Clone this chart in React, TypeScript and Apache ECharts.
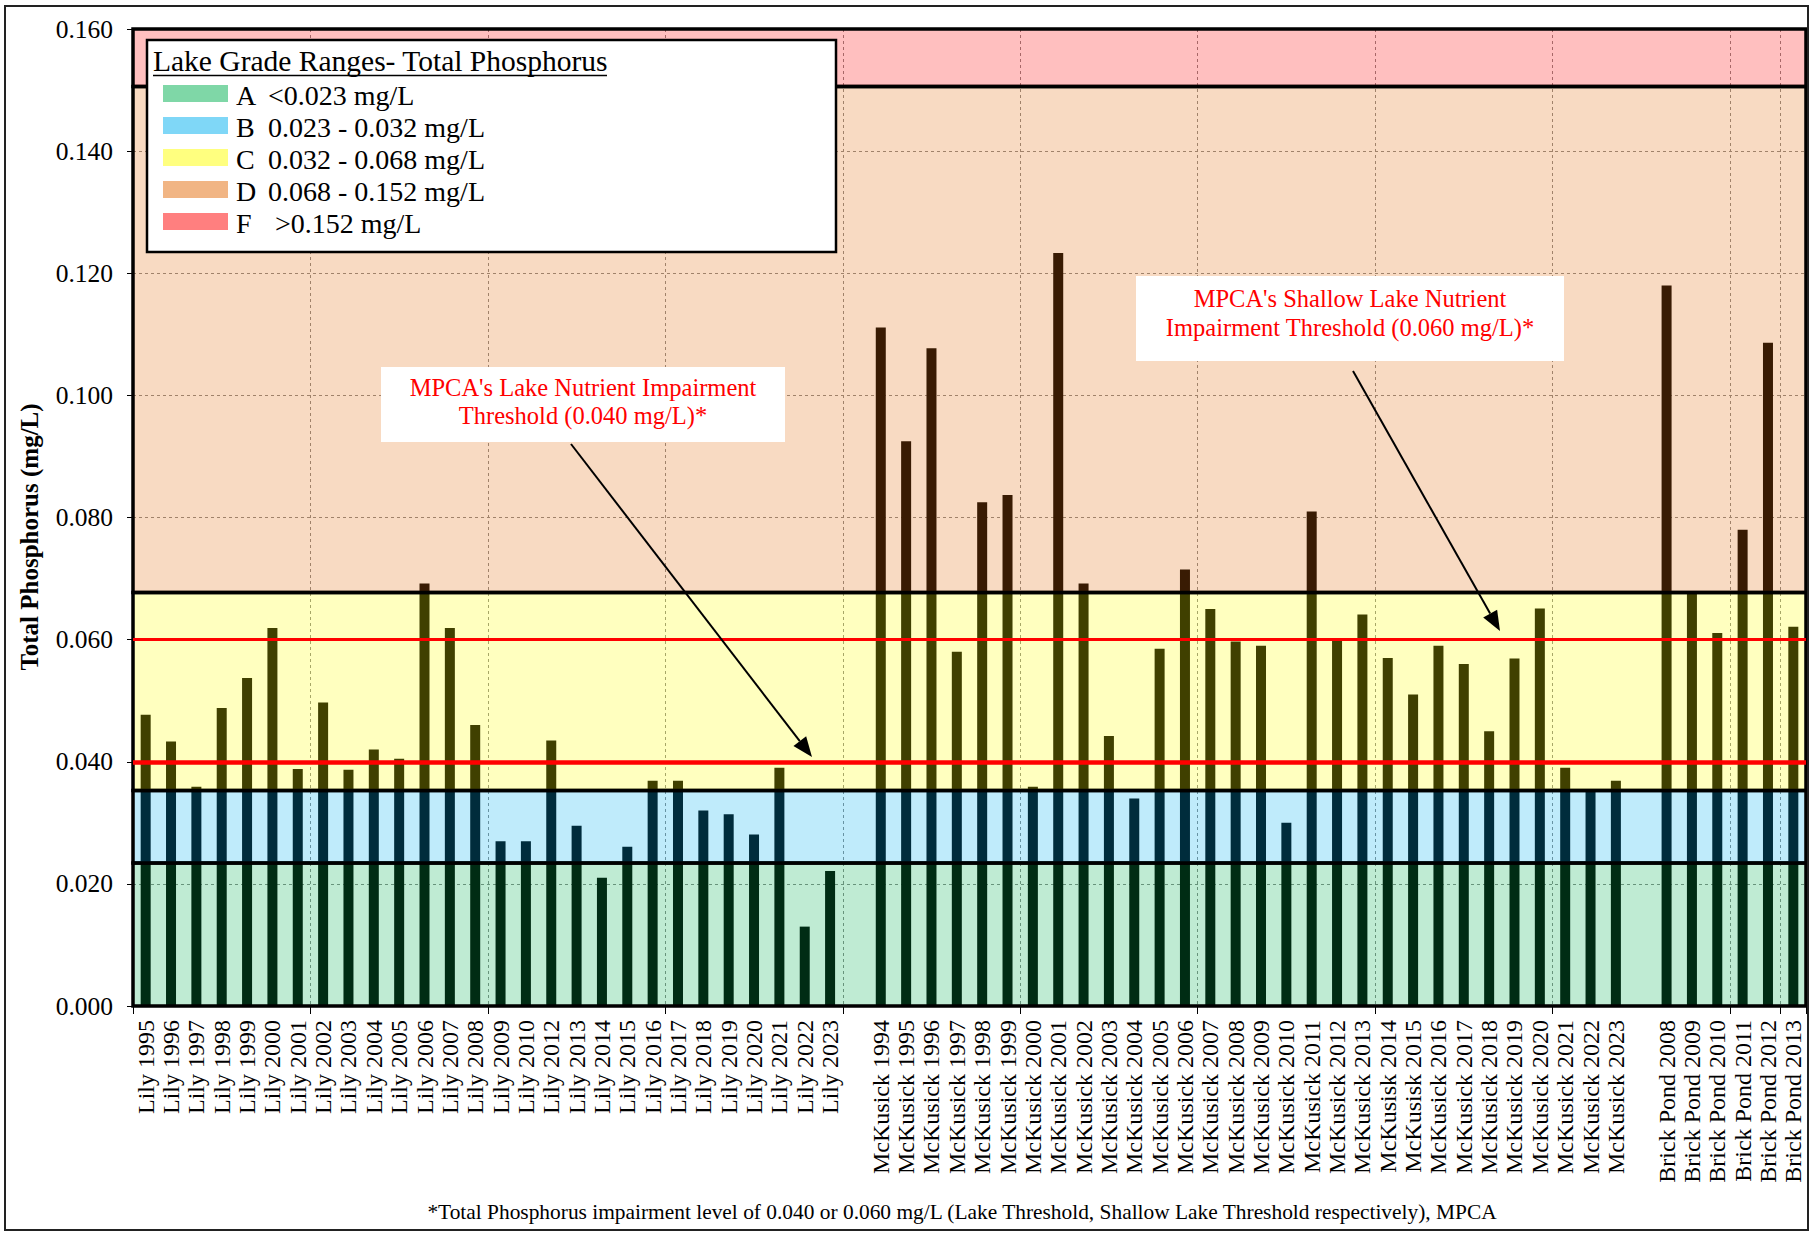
import React, { useEffect, useRef } from "react";
import * as echarts from "echarts";

// ---------- DATA ----------
const lilyLabels = [
  "Lily 1995", "Lily 1996", "Lily 1997", "Lily 1998", "Lily 1999", "Lily 2000", "Lily 2001",
  "Lily 2002", "Lily 2003", "Lily 2004", "Lily 2005", "Lily 2006", "Lily 2007", "Lily 2008",
  "Lily 2009", "Lily 2010", "Lily 2012", "Lily 2013", "Lily 2014", "Lily 2015", "Lily 2016",
  "Lily 2017", "Lily 2018", "Lily 2019", "Lily 2020", "Lily 2021", "Lily 2022", "Lily 2023",
];
const lilyTP = [
  0.0477, 0.0433, 0.0359, 0.0488, 0.0537, 0.0619, 0.0388,
  0.0497, 0.0387, 0.0420, 0.0405, 0.0692, 0.0619, 0.0460,
  0.0270, 0.0270, 0.0435, 0.0295, 0.0210, 0.0261, 0.0369,
  0.0369, 0.0320, 0.0314, 0.0281, 0.0390, 0.0130, 0.0221,
];
const mckLabels = [
  "McKusick 1994", "McKusick 1995", "McKusick 1996", "McKusick 1997", "McKusick 1998",
  "McKusick 1999", "McKusick 2000", "McKusick 2001", "McKusick 2002", "McKusick 2003",
  "McKusick 2004", "McKusick 2005", "McKusick 2006", "McKusick 2007", "McKusick 2008",
  "McKusick 2009", "McKusick 2010", "McKusick 2011", "McKusick 2012", "McKusick 2013",
  "McKusisk 2014", "McKusisk 2015", "McKusick 2016", "McKusick 2017", "McKusick 2018",
  "McKusick 2019", "McKusick 2020", "McKusick 2021", "McKusick 2022", "McKusick 2023",
];
const mckTP = [
  0.1111, 0.0925, 0.1077, 0.0580, 0.0825,
  0.0837, 0.0359, 0.1233, 0.0692, 0.0442,
  0.0340, 0.0585, 0.0715, 0.0650, 0.0597,
  0.0590, 0.0300, 0.0810, 0.0598, 0.0641,
  0.0570, 0.0510, 0.0590, 0.0560, 0.0450,
  0.0569, 0.0651, 0.0390, 0.0351, 0.0369,
];
const brickLabels = [
  "Brick Pond 2008", "Brick Pond 2009", "Brick Pond 2010",
  "Brick Pond 2011", "Brick Pond 2012", "Brick Pond 2013",
];
const brickTP = [0.1180, 0.0676, 0.0611, 0.0780, 0.1086, 0.0621];

const yTicks = [0, 0.02, 0.04, 0.06, 0.08, 0.1, 0.12, 0.14, 0.16];

// grade bands
const bandEdges = [0, 0.0234, 0.0353, 0.0677, 0.1506, 0.16];
const bandColors = ["#00B050", "#00B0F0", "#FFFF00", "#E46C0A", "#FF0000"];
const legendLetters = ["A", "B", "C", "D", "F"];
const legendRanges = ["<0.023 mg/L", "0.023 - 0.032 mg/L", "0.032 - 0.068 mg/L", "0.068 - 0.152 mg/L", " >0.152 mg/L"];
const legendTitle = "Lake Grade Ranges- Total Phosphorus";

const thresholds = [0.04, 0.06];
const thresholdWidths = [4.5, 3];

const note1 = ["MPCA's Lake Nutrient Impairment", "Threshold (0.040 mg/L)*"];
const note2 = ["MPCA's Shallow Lake Nutrient", "Impairment Threshold (0.060 mg/L)*"];
const footnote =
  "*Total Phosphorus impairment level of 0.040 or 0.060 mg/L (Lake Threshold, Shallow Lake Threshold respectively), MPCA";
const yTitle = "Total Phosphorus (mg/L)";

// ---------- helpers ----------
const FONT = "Liberation Serif";

function rgba(hex: string, a: number) {
  const r = parseInt(hex.slice(1, 3), 16);
  const g = parseInt(hex.slice(3, 5), 16);
  const b = parseInt(hex.slice(5, 7), 16);
  return `rgba(${r},${g},${b},${a})`;
}

function text(
  x: number,
  y: number,
  t: string,
  size: number,
  fill: string,
  align = "left",
  weight = "normal",
  rotation = 0
) {
  return {
    type: "text",
    x,
    y,
    rotation,
    z: 100,
    silent: true,
    style: {
      text: t,
      fill,
      font: `${weight} ${size}px ${FONT}`,
      textAlign: align,
      align,
      textVerticalAlign: "middle",
      verticalAlign: "middle",
    },
  };
}

function arrow(x1: number, y1: number, x2: number, y2: number) {
  const ang = Math.atan2(y2 - y1, x2 - x1);
  const L = 20;
  const W = 8;
  const c = Math.cos(ang);
  const s = Math.sin(ang);
  const bx = x2 - L * c;
  const by = y2 - L * s;
  return [
    { type: "line", z: 100, silent: true, shape: { x1, y1, x2: bx, y2: by }, style: { stroke: "#000", lineWidth: 2 } },
    {
      type: "polygon",
      z: 100,
      silent: true,
      shape: { points: [[x2, y2], [bx + W * s, by - W * c], [bx - W * s, by + W * c]] },
      style: { fill: "#000" },
    },
  ];
}

function noteBox(x: number, y: number, w: number, h: number, lines: string[], cx: number, ys: number[]) {
  const els: any[] = [
    { type: "rect", z: 99, silent: true, shape: { x, y, width: w, height: h }, style: { fill: "#fff" } },
  ];
  lines.forEach((l, i) => els.push(text(cx, ys[i], l, 24.5, "#FF0000", "center")));
  return els;
}

export default function App() {
  const ref = useRef<HTMLDivElement>(null);

  useEffect(() => {
    if (!ref.current) return;
    const chart = echarts.init(ref.current, null, { renderer: "svg" });

    const categories = [...lilyLabels, " ", ...mckLabels, "  ", ...brickLabels];
    const values = [...lilyTP, null, ...mckTP, null, ...brickTP];

    const bandAreas = bandColors.map((c, i) => [
      { yAxis: bandEdges[i], itemStyle: { color: rgba(c, 0.25), borderColor: "#000", borderWidth: 3.5 } },
      { yAxis: bandEdges[i + 1] },
    ]);

    const legendEls: any[] = [
      {
        type: "rect",
        z: 99,
        silent: true,
        shape: { x: 147, y: 40, width: 689, height: 212 },
        style: { fill: "#fff", stroke: "#000", lineWidth: 2.5 },
      },
      text(153, 61, legendTitle, 29.5, "#000"),
      { type: "line", z: 100, silent: true, shape: { x1: 153, y1: 75.5, x2: 607, y2: 75.5 }, style: { stroke: "#000", lineWidth: 1.5 } },
    ];
    const rowYs = [94, 126, 158, 190, 222];
    legendLetters.forEach((L, i) => {
      legendEls.push({
        type: "rect",
        z: 100,
        silent: true,
        shape: { x: 163, y: rowYs[i] - 9, width: 65, height: 17 },
        style: { fill: rgba(bandColors[i], 0.5) },
      });
      legendEls.push(text(236, rowYs[i] + 1, L, 28, "#000"));
      legendEls.push(text(268, rowYs[i] + 1, legendRanges[i], 28, "#000"));
    });

    const option: any = {
      animation: false,
      backgroundColor: "#fff",
      grid: { left: 133, right: 10, top: 29, bottom: 227, containLabel: false, outerBoundsMode: "none" },
      xAxis: {
        type: "category",
        data: categories,
        boundaryGap: true,
        axisLine: { show: true, lineStyle: { color: "#000", width: 2 } },
        axisTick: { show: true, interval: 6, length: 8, lineStyle: { color: "#000", width: 1 } },
        axisLabel: {
          interval: 0,
          rotate: 90,
          margin: 14,
          fontSize: 24,
          fontFamily: FONT,
          color: "#000",
        },
        splitLine: { show: true, interval: 6, lineStyle: { color: "#8a8a8a", type: [3, 3], width: 1 } },
      },
      yAxis: {
        type: "value",
        min: yTicks[0],
        max: yTicks[yTicks.length - 1],
        interval: 0.02,
        axisLine: { show: true, lineStyle: { color: "#000", width: 2 } },
        axisTick: { show: true, length: 6, lineStyle: { color: "#000" } },
        axisLabel: {
          margin: 20,
          fontSize: 25.5,
          fontFamily: FONT,
          color: "#000",
          formatter: (v: number) => v.toFixed(3),
        },
        splitLine: { show: true, lineStyle: { color: "#8a8a8a", type: [3, 3], width: 1 } },
      },
      series: [
        {
          type: "bar",
          name: "Total Phosphorus",
          data: values,
          barWidth: 10,
          itemStyle: { color: "#000" },
          z: 2,
          silent: true,
          markArea: {
            silent: true,
            z: 3,
            data: bandAreas,
          },
          markLine: {
            silent: true,
            z: 5,
            symbol: ["none", "none"],
            label: { show: false },
            lineStyle: { color: "#FF0000", type: "solid" },
            data: thresholds.map((t, i) => ({ yAxis: t, lineStyle: { color: "#FF0000", type: "solid", width: thresholdWidths[i] } })),
          },
        },
      ],
      graphic: {
        elements: [
          {
            type: "rect",
            z: 100,
            silent: true,
            shape: { x: 5, y: 6, width: 1803, height: 1224 },
            style: { fill: "none", stroke: "#222", lineWidth: 2 },
          },
          ...legendEls,
          ...noteBox(381, 367, 404, 75, note1, 583, [387, 415]),
          ...noteBox(1136, 276, 428, 85, note2, 1350, [298, 327]),
          ...arrow(571, 444, 812, 757),
          ...arrow(1353, 371, 1500, 631),
          text(29, 537, yTitle, 25, "#000", "center", "bold", Math.PI / 2),
          text(962, 1212, footnote, 21.4, "#000", "center"),
        ],
      },
    };

    chart.setOption(option);
    return () => chart.dispose();
  }, []);

  return <div ref={ref} style={{ position: "fixed", left: 0, top: 0, width: 1816, height: 1233 }} />;
}
